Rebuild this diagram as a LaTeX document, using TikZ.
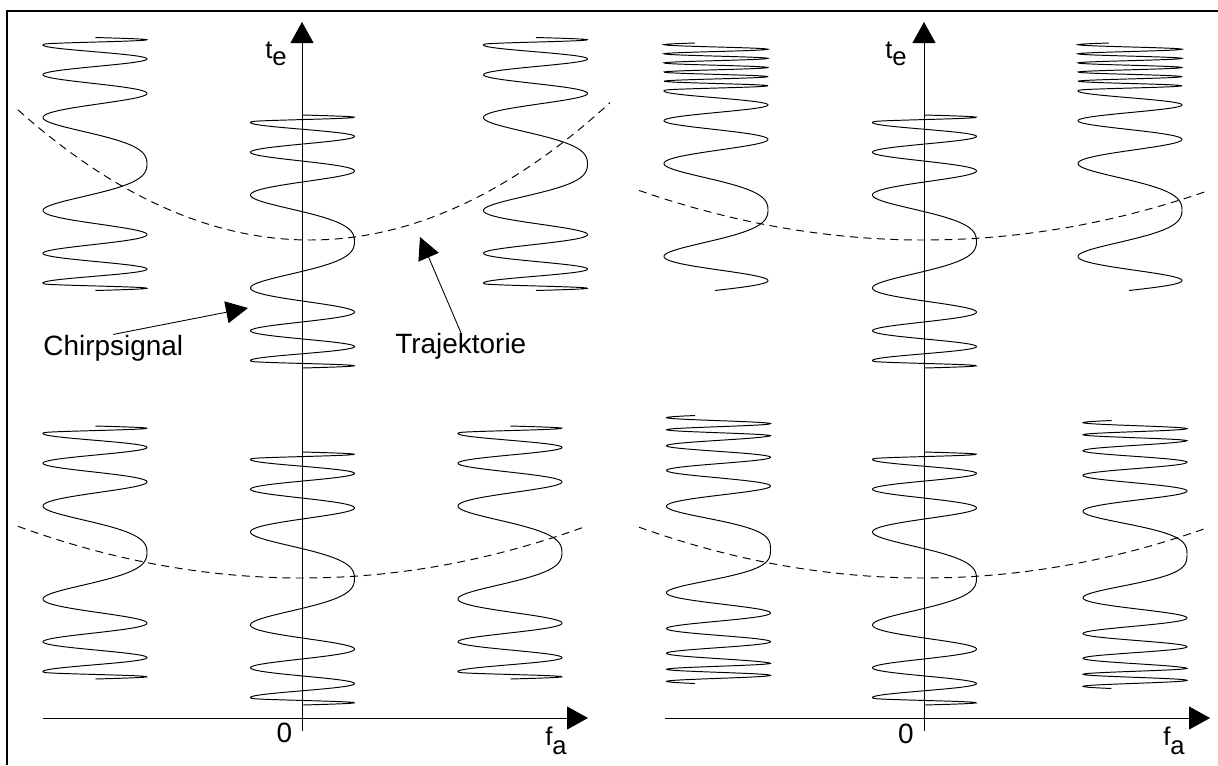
\documentclass[tikz,border=0pt]{standalone}
\usepackage{fontspec}
\setmainfont{Liberation Sans}
\usetikzlibrary{calc,arrows.meta}

\begin{document}
\begin{tikzpicture}[x=0.02cm,y=-0.02cm,
  declare function={ph(\dd,\ks,\kb,\km,\kw)=(min(\dd,\km)/\ks)*(min(\dd,\km)/\ks)+\kb*min(\dd,\km)+\kw*max(\dd-\km,0);},
  frame/.style={line width=1pt},
  chirp/.style={line width=0.55pt},
  traj/.style={line width=0.55pt,dash pattern=on 4.5pt off 3.2pt},
  axis/.style={line width=0.5pt,-{Triangle[length=0.42cm,width=0.46cm]}},
  pointer/.style={line width=0.5pt,-{Triangle[length=0.44cm,width=0.44cm]}},
  lbl/.style={inner sep=0pt,font=\fontsize{15.9}{19}\selectfont},
  axlbl/.style={inner sep=0pt,font=\fontsize{14.6}{17}\selectfont}]
  \useasboundingbox (0,0) rectangle (1218,765);

  \coordinate (F0) at (7,765);
  \coordinate (F1) at (7,11);
  \coordinate (F2) at (1218,11);
  \draw[frame] (F0) -- (F1) -- (F2);

  \coordinate (O1) at (302,718);
  \coordinate (T1) at ($(O1)+(0,-696)$);
  \coordinate (B1) at ($(O1)+(0,13)$);
  \coordinate (L1) at ($(O1)+(-259,0)$);
  \coordinate (R1) at ($(O1)+(286,0)$);
  \coordinate (O2) at (924,718);
  \coordinate (T2) at ($(O2)+(0,-696)$);
  \coordinate (B2) at ($(O2)+(0,13)$);
  \coordinate (L2) at ($(O2)+(-259,0)$);
  \coordinate (R2) at ($(O2)+(286,0)$);

  \foreach \cx/\cy/\ya/\yb in {95/164/-126.5/126.5, 302.5/241.5/-126.5/126.5, 535.5/164/-126.5/126.5,
      95/552.5/-126.5/126.5, 302.5/578.5/-126.5/126.5, 510/552.5/-126.5/126.5,
      716/210/-167/80.5, 924.5/241.5/-126.5/126.5, 1130/210/-167/80.5, 924.5/578.5/-126.5/126.5}
    \draw[chirp] plot[domain=\ya:\yb,samples=600] ({\cx+52*cos(deg(ph(abs(\x),33.56,0.0263,120,0.688)))},{\cy+\x});
  \foreach \cx/\cy/\ya/\yb in {718.5/549.5/-134/134, 1135/554.5/-134/134}
    \draw[chirp] plot[domain=\ya:\yb,samples=600] ({\cx+52*cos(deg(ph(abs(\x),27.74,0.0165,113,0.52)))},{\cy+\x});

  \draw[traj] plot[domain=18:610,samples=80] (\x,{240-0.00152*(\x-310)*(\x-310)});
  \draw[traj] plot[domain=18:583,samples=80] (\x,{578-0.00064*(\x-302)*(\x-302)});
  \draw[traj] plot[domain=639:1205,samples=80] (\x,{240-0.00061*(\x-924)*(\x-924)});
  \draw[traj] plot[domain=639:1205,samples=80] (\x,{578-0.00063*(\x-924)*(\x-924)});

  \draw[axis] (B1) -- (T1);
  \draw[axis] (L1) -- (R1);
  \draw[axis] (B2) -- (T2);
  \draw[axis] (L2) -- (R2);

  \node[axlbl,anchor=base west] (te1) at ($(T1)+(-37,36)$) {t\raisebox{-4.5pt}{e}};
  \node[axlbl,anchor=base west] (fa1) at ($(O1)+(243,27)$) {f\raisebox{-5.5pt}{a}};
  \node[lbl] (zero1) at ($(O1)+(-17.5,15)$) {0};
  \node[axlbl,anchor=base west] (te2) at ($(T2)+(-39,36)$) {t\raisebox{-4.5pt}{e}};
  \node[axlbl,anchor=base west] (fa2) at ($(O2)+(239,27)$) {f\raisebox{-5.5pt}{a}};
  \node[lbl] (zero2) at ($(O2)+(-18,15.5)$) {0};

  \node[lbl,anchor=base west] (chirplbl) at (43,355) {Chirpsignal};
  \node[lbl,anchor=base west] (trajlbl) at (395,353) {Trajektorie};
  \coordinate (chirptip) at (248,308);
  \coordinate (trajtip) at (420,237);
  \draw[pointer] (chirplbl.north) -- (chirptip);
  \draw[pointer] (trajlbl.north) -- (trajtip);
\end{tikzpicture}
\end{document}
